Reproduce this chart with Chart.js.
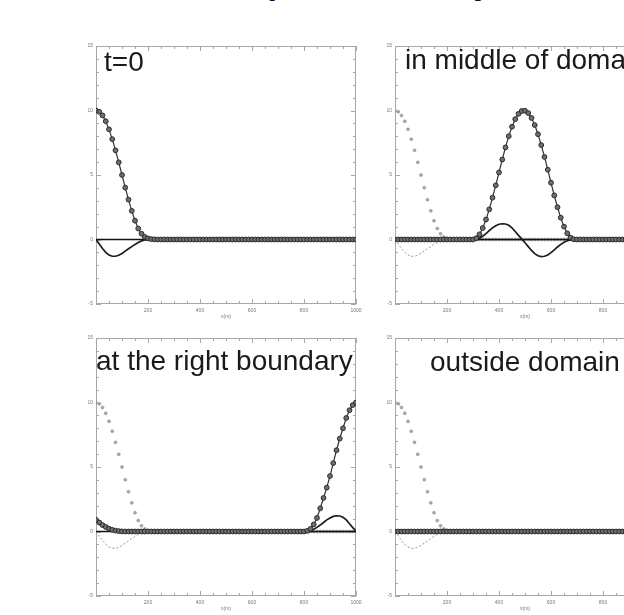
<!DOCTYPE html>
<html>
<head>
<meta charset="utf-8">
<script src="https://cdn.jsdelivr.net/npm/chart.js@4.4.1/dist/chart.umd.min.js"></script>
<style>
  html, body { margin: 0; padding: 0; background: #fff; }
  body { width: 624px; height: 615px; overflow: hidden; position: relative; }
  canvas { position: absolute; }
  #title {
    position: absolute; top: -35px; left: 241px;
    font: bold 34px "Liberation Sans", Arial, sans-serif;
    line-height: 34px; color: #111; white-space: nowrap;
  }
</style>
</head>
<body>
<div id="title">Open boundary</div>
<canvas id="p1" width="300" height="290" style="left:70px;top:40px"></canvas>
<canvas id="p2" width="300" height="290" style="left:369px;top:40px"></canvas>
<canvas id="p3" width="300" height="290" style="left:70px;top:332px"></canvas>
<canvas id="p4" width="300" height="290" style="left:369px;top:332px"></canvas>
<script>
// grid points (m)
const xPos = [
  0, 12.5, 25, 37.5, 50, 62.5, 75, 87.5, 100, 112.5,
  125, 137.5, 150, 162.5, 175, 187.5, 200, 212.5, 225, 237.5,
  250, 262.5, 275, 287.5, 300, 312.5, 325, 337.5, 350, 362.5,
  375, 387.5, 400, 412.5, 425, 437.5, 450, 462.5, 475, 487.5,
  500, 512.5, 525, 537.5, 550, 562.5, 575, 587.5, 600, 612.5,
  625, 637.5, 650, 662.5, 675, 687.5, 700, 712.5, 725, 737.5,
  750, 762.5, 775, 787.5, 800, 812.5, 825, 837.5, 850, 862.5,
  875, 887.5, 900, 912.5, 925, 937.5, 950, 962.5, 975, 987.5,
  1000
];

// t=0
const hStart = [
  10, 9.90, 9.62, 9.17, 8.54, 7.78, 6.91, 5.98, 5.00, 4.02,
  3.09, 2.22, 1.46, 0.85, 0.45, 0.20, 0.08, 0.03, 0.01, 0,
  0, 0, 0, 0, 0, 0, 0, 0, 0, 0,
  0, 0, 0, 0, 0, 0, 0, 0, 0, 0,
  0, 0, 0, 0, 0, 0, 0, 0, 0, 0,
  0, 0, 0, 0, 0, 0, 0, 0, 0, 0,
  0, 0, 0, 0, 0, 0, 0, 0, 0, 0,
  0, 0, 0, 0, 0, 0, 0, 0, 0, 0,
  0
];
const uStart = [
  0, -0.35, -0.70, -1.00, -1.20, -1.30, -1.30, -1.22, -1.08, -0.90,
  -0.72, -0.55, -0.38, -0.23, -0.11, -0.04, 0, 0, 0, 0,
  0, 0, 0, 0, 0, 0, 0, 0, 0, 0,
  0, 0, 0, 0, 0, 0, 0, 0, 0, 0,
  0, 0, 0, 0, 0, 0, 0, 0, 0, 0,
  0, 0, 0, 0, 0, 0, 0, 0, 0, 0,
  0, 0, 0, 0, 0, 0, 0, 0, 0, 0,
  0, 0, 0, 0, 0, 0, 0, 0, 0, 0,
  0
];

// pulse in the middle of the domain
const hMiddle = [
  0, 0, 0, 0, 0, 0, 0, 0, 0, 0,
  0, 0, 0, 0, 0, 0, 0, 0, 0, 0,
  0, 0, 0, 0, 0, 0.10, 0.40, 0.89, 1.55, 2.34,
  3.24, 4.20, 5.20, 6.20, 7.14, 8.01, 8.74, 9.33, 9.74, 9.96,
  9.98, 9.80, 9.42, 8.87, 8.16, 7.32, 6.40, 5.41, 4.40, 3.42,
  2.50, 1.69, 1.00, 0.48, 0.15, 0.02, 0, 0, 0, 0,
  0, 0, 0, 0, 0, 0, 0, 0, 0, 0,
  0, 0, 0, 0, 0, 0, 0, 0, 0, 0,
  0
];
const uMiddle = [
  0, 0, 0, 0, 0, 0, 0, 0, 0, 0,
  0, 0, 0, 0, 0, 0, 0, 0, 0, 0,
  0, 0, 0, 0, 0, 0.02, 0.10, 0.25, 0.45, 0.68,
  0.90, 1.07, 1.18, 1.22, 1.20, 1.10, 0.90, 0.62, 0.32, 0.05,
  -0.25, -0.55, -0.85, -1.10, -1.26, -1.32, -1.30, -1.20, -1.02, -0.80,
  -0.58, -0.38, -0.22, -0.10, -0.04, -0.01, 0, 0, 0, 0,
  0, 0, 0, 0, 0, 0, 0, 0, 0, 0,
  0, 0, 0, 0, 0, 0, 0, 0, 0, 0,
  0
];

// pulse reaching the right boundary
const hRight = [
  0.90, 0.70, 0.50, 0.35, 0.22, 0.13, 0.07, 0.03, 0.01, 0,
  0, 0, 0, 0, 0, 0, 0, 0, 0, 0,
  0, 0, 0, 0, 0, 0, 0, 0, 0, 0,
  0, 0, 0, 0, 0, 0, 0, 0, 0, 0,
  0, 0, 0, 0, 0, 0, 0, 0, 0, 0,
  0, 0, 0, 0, 0, 0, 0, 0, 0, 0,
  0, 0, 0, 0, 0, 0.05, 0.20, 0.55, 1.05, 1.80,
  2.60, 3.40, 4.30, 5.30, 6.30, 7.20, 8.00, 8.80, 9.40, 9.80,
  10
];
const uRight = [
  0.75, 0.60, 0.45, 0.30, 0.20, 0.12, 0.06, 0.02, 0, 0,
  0, 0, 0, 0, 0, 0, 0, 0, 0, 0,
  0, 0, 0, 0, 0, 0, 0, 0, 0, 0,
  0, 0, 0, 0, 0, 0, 0, 0, 0, 0,
  0, 0, 0, 0, 0, 0, 0, 0, 0, 0,
  0, 0, 0, 0, 0, 0, 0, 0, 0, 0,
  0, 0, 0, 0, 0, 0.02, 0.08, 0.18, 0.32, 0.50,
  0.70, 0.90, 1.05, 1.17, 1.22, 1.20, 1.10, 0.90, 0.60, 0.30,
  0.05
];

// pulse has left the domain
const hOutside = [
  0, 0, 0, 0, 0, 0, 0, 0, 0, 0,
  0, 0, 0, 0, 0, 0, 0, 0, 0, 0,
  0, 0, 0, 0, 0, 0, 0, 0, 0, 0,
  0, 0, 0, 0, 0, 0, 0, 0, 0, 0,
  0, 0, 0, 0, 0, 0, 0, 0, 0, 0,
  0, 0, 0, 0, 0, 0, 0, 0, 0, 0,
  0, 0, 0, 0, 0, 0, 0, 0, 0, 0,
  0, 0, 0, 0, 0, 0, 0, 0, 0, 0,
  0
];
const uOutside = hOutside.slice();

// still water line
const baseX = [0, 1000];
const baseY = [0, 0];

const xTicks = [200, 400, 600, 800, 1000];
const yTicks = [-5, 0, 5, 10, 15];

function pts(xs, ys) {
  return xs.map((x, i) => ({ x: x, y: ys[i] }));
}

// box + inward ticks on all four sides
const frameTicks = {
  id: 'frameTicks',
  beforeDatasetsDraw(chart) {
    const { ctx, chartArea: a, scales: { x, y } } = chart;
    ctx.save();
    ctx.strokeStyle = '#a8a8a8';
    ctx.lineWidth = 1;
    ctx.strokeRect(a.left + 0.5, a.top + 0.5, a.width - 1, a.height - 1);
    ctx.beginPath();
    x.ticks.forEach(t => {
      const px = Math.round(x.getPixelForValue(t.value)) + 0.5;
      const len = xTicks.includes(t.value) ? 5 : 3;
      ctx.moveTo(px, a.bottom); ctx.lineTo(px, a.bottom - len);
      ctx.moveTo(px, a.top); ctx.lineTo(px, a.top + len);
    });
    y.ticks.forEach(t => {
      const py = Math.round(y.getPixelForValue(t.value)) + 0.5;
      const len = yTicks.includes(t.value) ? 5 : 3;
      ctx.moveTo(a.left, py); ctx.lineTo(a.left + len, py);
      ctx.moveTo(a.right, py); ctx.lineTo(a.right - len, py);
    });
    ctx.stroke();
    ctx.restore();
  }
};

const panelLabel = {
  id: 'panelLabel',
  afterDatasetsDraw(chart, args, opts) {
    const { ctx, chartArea: a } = chart;
    ctx.save();
    ctx.font = '28px "Liberation Sans", Arial, sans-serif';
    ctx.fillStyle = '#1a1a1a';
    ctx.textBaseline = 'alphabetic';
    ctx.fillText(opts.text, a.left + opts.dx, a.top + opts.dy);
    ctx.restore();
  }
};

function makePanel(id, label, dx, dy, h, u, showStart) {
  const datasets = [
    {
      data: pts(xPos, h),
      borderColor: '#333', borderWidth: 1.2,
      pointRadius: 2.4, pointBorderWidth: 1,
      pointBorderColor: '#2a2a2a', pointBackgroundColor: '#6e6e6e'
    },
    {
      data: pts(xPos, u),
      borderColor: '#1c1c1c', borderWidth: 1.7, pointRadius: 0
    },
    {
      data: pts(baseX, baseY),
      borderColor: '#111', borderWidth: 1.6, pointRadius: 0
    }
  ];
  if (showStart) {
    datasets.push({
      data: pts(xPos, hStart),
      showLine: false, pointRadius: 1.5, pointBorderWidth: 0.5,
      pointBorderColor: '#888', pointBackgroundColor: '#aaa'
    });
    datasets.push({
      data: pts(xPos, uStart),
      borderColor: '#999', borderWidth: 1, borderDash: [2, 2], pointRadius: 0
    });
  }

  const tickFont = { family: '"Liberation Sans", Arial, sans-serif', size: 5 };

  new Chart(document.getElementById(id), {
    type: 'line',
    data: { datasets: datasets },
    options: {
      responsive: false,
      animation: false,
      devicePixelRatio: 1,
      layout: { padding: { top: 4, right: 14, left: 0, bottom: 10 }, autoPadding: false },
      plugins: {
        legend: { display: false },
        tooltip: { enabled: false },
        panelLabel: { text: label, dx: dx, dy: dy }
      },
      scales: {
        x: {
          type: 'linear', min: 0, max: 1000,
          afterFit: s => { s.height = 16; },
          grid: { display: false, drawTicks: false },
          border: { display: false },
          ticks: {
            stepSize: 50, autoSkip: false, maxRotation: 0, padding: 4,
            color: '#777', font: tickFont,
            callback: v => (xTicks.includes(v) ? String(v) : '')
          },
          title: { display: true, text: 'x(m)', color: '#777', font: tickFont, padding: 0 }
        },
        y: {
          type: 'linear', min: -5, max: 15,
          afterFit: s => { s.width = 26; },
          grid: { display: false, drawTicks: false },
          border: { display: false },
          ticks: {
            stepSize: 1, autoSkip: false, padding: 3,
            color: '#777', font: tickFont,
            callback: v => (yTicks.includes(v) ? String(v) : '')
          }
        }
      }
    },
    plugins: [frameTicks, panelLabel]
  });
}

makePanel('p1', 't=0', 8, 25, hStart, uStart, false);
makePanel('p2', 'in middle of domain', 10, 23, hMiddle, uMiddle, true);
makePanel('p3', 'at the right boundary', 0, 32, hRight, uRight, true);
makePanel('p4', 'outside domain', 35, 33, hOutside, uOutside, true);
</script>
</body>
</html>
